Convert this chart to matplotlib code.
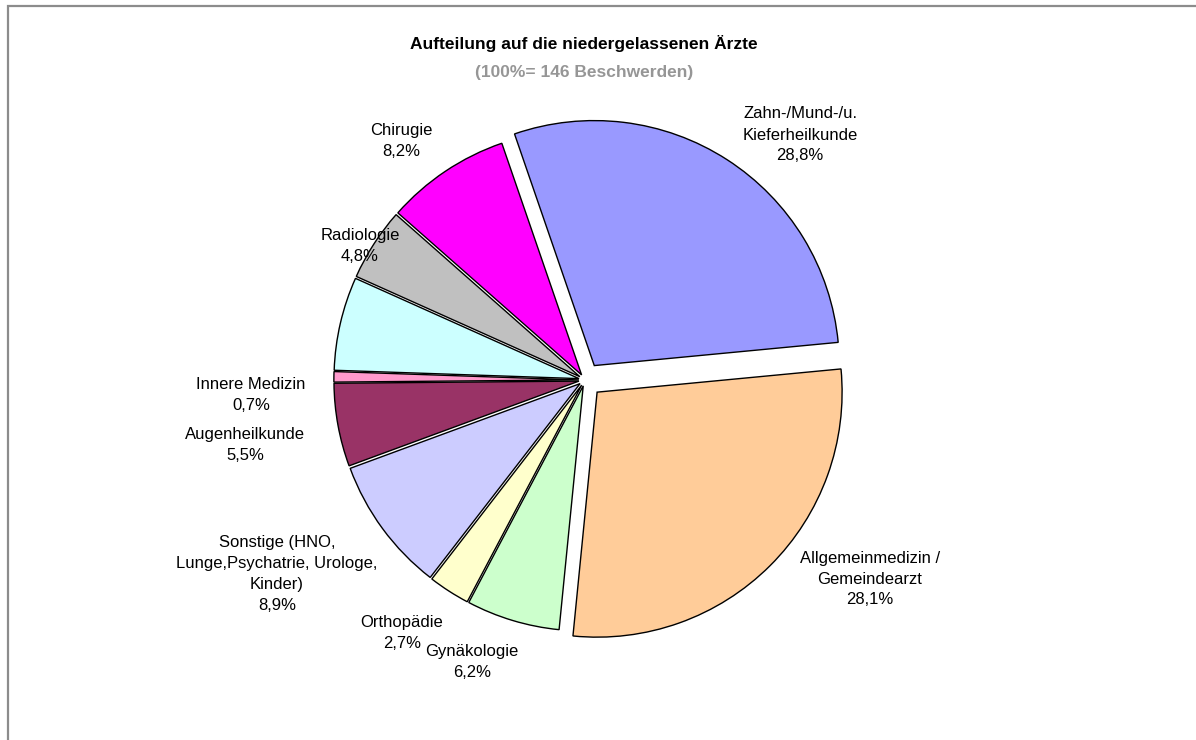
import matplotlib
matplotlib.use("Agg")
import matplotlib.pyplot as plt
from matplotlib.patches import Rectangle

plt.rcParams['font.family'] = ['Liberation Sans', 'DejaVu Sans']

# Beschwerden je Fachrichtung (Summe 146), im Uhrzeigersinn ab Zahnmedizin
fachrichtungen = [
    "Zahn-/Mund-/u.\nKieferheilkunde",
    "Allgemeinmedizin /\nGemeindearzt",
    "Gynäkologie",
    "Orthopädie",
    "Sonstige (HNO,\nLunge,Psychatrie, Urologe,\nKinder)",
    "Augenheilkunde",
    "Innere Medizin",
    "",
    "Radiologie",
    "Chirugie",
]
beschwerden = [42, 41, 9, 4, 13, 8, 1, 9, 7, 12]
farben = ["#9999FF", "#FFCC99", "#CCFFCC", "#FFFFCC", "#CCCCFF",
          "#993366", "#FF99CC", "#CCFFFF", "#C0C0C0", "#FF00FF"]
explode = [0.07, 0.07, 0.025, 0.025, 0.025, 0.025, 0.025, 0.025, 0.025, 0.025]

# Beschriftungspositionen in Pixeln (x, y von oben)
label_pos = [(800, 135), (870, 579), (472, 662), (402, 633), (277, 574),
             (245, 445), (251, 395), None, (360, 246), (401, 141)]

W, H = 1196, 740
fig = plt.figure(figsize=(W / 100, H / 100), dpi=100)
ax = fig.add_axes([0, 0, 1, 1])

cx, cy, r = 585, H - 380, 245
# explode wirkt in Datenkoordinaten, daher auf den Radius skalieren
ax.pie(beschwerden, colors=farben, explode=[e * r for e in explode],
       startangle=109, counterclock=False, radius=r, center=(cx, cy),
       wedgeprops=dict(edgecolor="black", linewidth=1.0))
ax.set_xlim(0, W)
ax.set_ylim(0, H)
ax.set_aspect("equal")
ax.axis("off")

gesamt = sum(beschwerden)
for name, n, pos in zip(fachrichtungen, beschwerden, label_pos):
    if pos is None:
        continue
    anteil = f"{100 * n / gesamt:.1f}%".replace(".", ",")
    ax.text(pos[0], H - pos[1], f"{name}\n{anteil}", ha="center", va="center",
            fontsize=12, linespacing=1.5, color="black")

ax.text(584, H - 43, "Aufteilung auf die niedergelassenen Ärzte", ha="center",
        va="center", fontsize=12.5, fontweight="bold", color="black")
ax.text(584, H - 72, "(100%= 146 Beschwerden)", ha="center", va="center",
        fontsize=12.5, fontweight="bold", color="#969696")

# Rahmen des Diagrammbereichs
fig.patches.append(Rectangle((8, -20), W + 40, H - 6 + 20, transform=None,
                             fill=False, edgecolor="#8C8C8C", linewidth=1.6))

fig.savefig("out.png", dpi=100, facecolor="white")
